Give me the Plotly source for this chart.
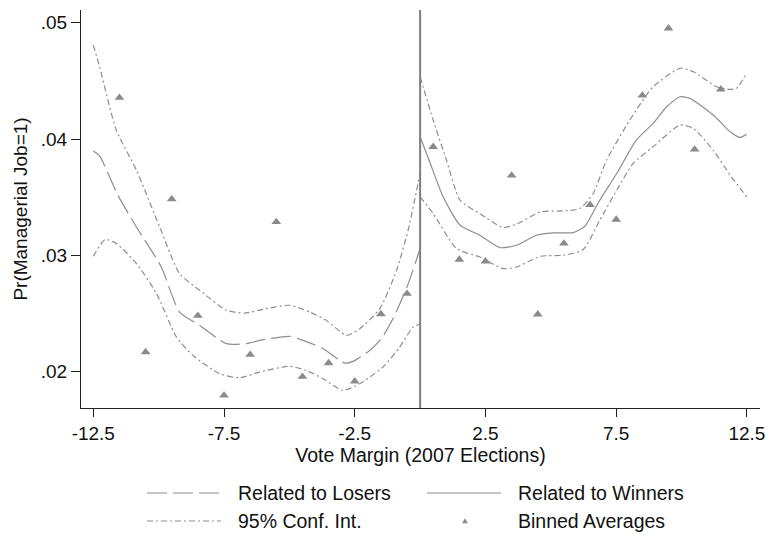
import plotly.graph_objects as go

# ---------------- data ----------------
bin_x = [-11.5, -10.5, -9.5, -8.5, -7.5, -6.5, -5.5, -4.5, -3.5, -2.5, -1.5, -0.5,
         0.5, 1.5, 2.5, 3.5, 4.5, 5.5, 6.5, 7.5, 8.5, 9.5, 10.5, 11.5]
bin_y = [0.04355, 0.02169, 0.03483, 0.02482, 0.01796, 0.02146, 0.03287, 0.01957,
         0.02074, 0.01917, 0.02496, 0.02671,
         0.03933, 0.02964, 0.02949, 0.03687, 0.02493, 0.03102, 0.03434, 0.03308,
         0.04375, 0.04952, 0.03910, 0.04427]

lose_x = [-12.5, -12.26, -11.56, -10.85, -9.9, -9.2, -8.43, -7.41, -6.64, -6.0,
          -4.99, -4.48, -3.71, -2.88, -2.57, -1.93, -1.48, -1.04, -0.5, 0.0]
lose_fit = [0.03898, 0.03855, 0.03517, 0.03244, 0.0290, 0.02513, 0.02398, 0.02241,
            0.02241, 0.02275, 0.02304, 0.02269, 0.02198, 0.02074, 0.02089, 0.02183,
            0.02284, 0.02456, 0.02728, 0.03059]

lose_hi_x = [-12.5, -12.26, -11.62, -10.85, -9.96, -9.2, -8.43, -7.41, -6.71, -5.88,
             -4.99, -4.22, -3.58, -2.82, -2.31, -1.54, -0.9, -0.46, 0.0]
lose_hi = [0.04808, 0.04621, 0.04077, 0.03732, 0.03244, 0.02843, 0.0270, 0.02528,
           0.02504, 0.02542, 0.02571, 0.02513, 0.02441, 0.02312, 0.0237, 0.02542,
           0.02872, 0.03216, 0.03704]

lose_lo_x = [-12.5, -12.05, -11.62, -10.85, -10.08, -9.32, -8.69, -7.67, -6.9, -6.14,
             -4.99, -4.35, -3.71, -2.95, -2.31, -1.42, -0.78, -0.27, 0.0]
lose_lo = [0.02992, 0.03136, 0.03102, 0.0293, 0.02671, 0.02298, 0.0214, 0.01983,
           0.01948, 0.01997, 0.02046, 0.02011, 0.0194, 0.01839, 0.01897, 0.0204,
           0.02212, 0.02384, 0.0241]

win_x = [0.0, 0.39, 0.88, 1.53, 2.28, 3.05, 3.69, 4.45, 5.09, 5.85, 6.3, 6.87, 7.52,
         8.27, 8.91, 9.43, 9.94, 10.32, 11.21, 11.86, 12.23, 12.49]
win_fit = [0.04019, 0.0379, 0.03503, 0.03259, 0.03173, 0.03067, 0.03087, 0.03173,
           0.03193, 0.03196, 0.0325, 0.03474, 0.03704, 0.03991, 0.04134, 0.04277,
           0.04363, 0.04349, 0.04206, 0.04062, 0.04014, 0.0404]

win_hi_x = [0.0, 0.5, 1.01, 1.53, 2.28, 3.18, 3.69, 4.6, 5.47, 6.11, 6.62, 7.13, 8.02,
            8.91, 9.94, 10.45, 11.34, 11.86, 12.1, 12.49]
win_hi = [0.04535, 0.04163, 0.03818, 0.03474, 0.0336, 0.03239, 0.03268, 0.03373,
          0.03382, 0.03403, 0.03532, 0.03818, 0.04163, 0.04449, 0.04608, 0.04578,
          0.04449, 0.04427, 0.04435, 0.04565]

win_lo_x = [0.0, 0.5, 1.39, 2.28, 3.18, 3.69, 4.6, 5.47, 6.24, 6.87, 7.52, 8.15, 8.91,
            9.94, 10.45, 11.21, 11.86, 12.49]
win_lo = [0.03503, 0.0336, 0.03059, 0.02986, 0.02886, 0.029, 0.02992, 0.03001, 0.0305,
          0.03302, 0.0356, 0.0379, 0.03933, 0.0412, 0.04091, 0.03904, 0.03689, 0.03503]

x_ticks = [-12.5, -7.5, -2.5, 2.5, 7.5, 12.5]
x_tick_text = ["-12.5", "-7.5", "-2.5", "2.5", "7.5", "12.5"]
y_ticks = [0.02, 0.03, 0.04, 0.05]
y_tick_text = [".02", ".03", ".04", ".05"]

legend_labels = ["Related to Losers", "Related to Winners", "95% Conf. Int.", "Binned Averages"]

# ---------------- styling ----------------
FONT = "Liberation Sans, Arial, Helvetica, sans-serif"
LINE_C = "#8e8e8e"
MARK_C = "#8a8a8a"
DASHDOT = "6px,3px,2px,3px"
LONGDASH = "20px,6px"

W, H = 770, 535
ML, MR, MT, MB = 81, 10, 10, 127


def px_x(p):
    return (p - ML) / (W - ML - MR)


def px_y(p):
    return (H - MB - p) / (H - MT - MB)


fig = go.Figure()

def add_line(x, y, dash, width=1.2):
    fig.add_trace(go.Scatter(x=x, y=y, mode="lines",
                             line=dict(color=LINE_C, width=width, dash=dash, shape="spline", smoothing=0.6),
                             showlegend=False, hoverinfo="skip"))

add_line(lose_hi_x, lose_hi, DASHDOT)
add_line(lose_lo_x, lose_lo, DASHDOT)
add_line(lose_x, lose_fit, LONGDASH)
add_line(win_hi_x, win_hi, DASHDOT)
add_line(win_lo_x, win_lo, DASHDOT)
add_line(win_x, win_fit, "solid")

fig.add_trace(go.Scatter(x=bin_x, y=bin_y, mode="markers",
                         marker=dict(symbol="triangle-up", size=8.5, color=MARK_C),
                         showlegend=False))

shapes = [
    dict(type="line", xref="x", yref="paper", x0=0, x1=0, y0=0, y1=1,
         line=dict(color="#7f7f7f", width=2)),
]

# manual legend keys
row1, row2 = 493, 521
shapes.append(dict(type="line", xref="paper", yref="paper",
                   x0=px_x(147), x1=px_x(221), y0=px_y(row1), y1=px_y(row1),
                   line=dict(color=LINE_C, width=1.2, dash=LONGDASH)))
shapes.append(dict(type="line", xref="paper", yref="paper",
                   x0=px_x(427), x1=px_x(501), y0=px_y(row1), y1=px_y(row1),
                   line=dict(color=LINE_C, width=1.2)))
shapes.append(dict(type="line", xref="paper", yref="paper",
                   x0=px_x(147), x1=px_x(221), y0=px_y(row2), y1=px_y(row2),
                   line=dict(color=LINE_C, width=1.2, dash=DASHDOT)))
tx, ty = 465, row2
tri = "M {a},{b} L {c},{d} L {e},{f} Z".format(
    a=px_x(tx - 2.8), b=px_y(ty + 2.2), c=px_x(tx + 2.8), d=px_y(ty + 2.2),
    e=px_x(tx), f=px_y(ty - 2.8))
shapes.append(dict(type="path", xref="paper", yref="paper", path=tri,
                   fillcolor=MARK_C, line=dict(color=MARK_C, width=0)))

annotations = []
for lbl, (lx, ly) in zip(legend_labels, [(236, row1), (516, row1), (236, row2), (516, row2)]):
    annotations.append(dict(text=lbl, xref="paper", yref="paper", x=px_x(lx), y=px_y(ly),
                            xanchor="left", yanchor="middle", showarrow=False,
                            font=dict(family=FONT, size=19.5, color="#111111")))

fig.update_layout(
    template="none",
    width=W, height=H,
    margin=dict(l=ML, r=MR, t=MT, b=MB, pad=0),
    paper_bgcolor="white", plot_bgcolor="white",
    font=dict(family=FONT, size=18, color="#111111"),
    shapes=shapes, annotations=annotations,
    showlegend=False,
)
fig.update_xaxes(range=[-12.97, 13.0], tickvals=x_ticks, ticktext=x_tick_text,
                 automargin=False,
                 showgrid=False, zeroline=False, showline=True, linecolor="#222222",
                 linewidth=1.3, ticks="outside", ticklen=8, tickcolor="#222222",
                 tickwidth=1.3, tickfont=dict(size=19),
                 title=dict(text="Vote Margin (2007 Elections)", font=dict(size=19.5), standoff=1))
fig.update_yaxes(range=[0.01688, 0.05109], tickvals=y_ticks, ticktext=y_tick_text,
                 automargin=False,
                 showgrid=False, zeroline=False, showline=True, linecolor="#222222",
                 linewidth=1.3, ticks="outside", ticklen=9, tickcolor="#222222",
                 tickwidth=1.3, tickfont=dict(size=19),
                 title=dict(text="Pr(Managerial Job=1)", font=dict(size=19), standoff=7))

fig.write_html("out.html", config={"displayModeBar": False},
               post_script="document.body.style.margin='0px';document.body.style.overflow='hidden';")
